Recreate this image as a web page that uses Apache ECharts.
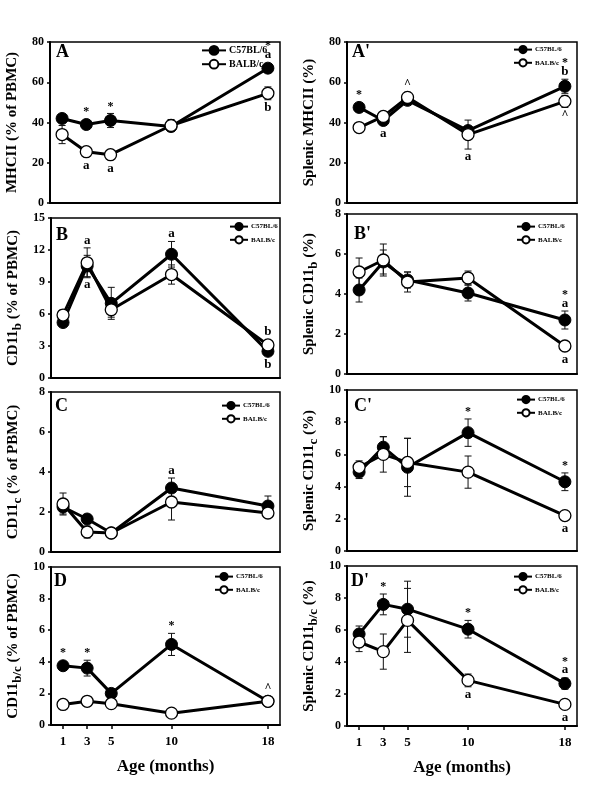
<!DOCTYPE html>
<html>
<head>
<meta charset="utf-8">
<script src="https://cdn.jsdelivr.net/npm/echarts@6/dist/echarts.min.js"></script>
<style>
html,body{margin:0;padding:0;background:#fff;}
#chart{width:600px;height:797px;}
</style>
</head>
<body>
<div id="chart"></div>
<script>
// ---------- DATA ----------
const ages = [1, 3, 5, 10, 18];
const seriesNames = ['C57BL/6', 'BALB/c'];
const xAxisTitle = 'Age (months)';

// A : MHCII (% of PBMC)
const mhcPbmcC57 = [42, 39, 41, 38, 67];
const mhcPbmcC57Err = [2, 2, 3.5, 2, 1.5];
const mhcPbmcBalb = [34, 25.5, 24, 38.5, 54.5];
const mhcPbmcBalbErr = [4.5, 2, 2, 3, 3.2];
const annA = [[3,'c','*','up'],[5,'c','*','up'],[3,'b','a','down'],[5,'b','a','down'],[18,'c','a*','up'],[18,'b','b','down']];

// A' : Splenic MHCII (%)
const splMhcC57 = [47.5, 41, 51, 36, 58];
const splMhcC57Err = [1.5, 1.5, 1.5, 2, 3.5];
const splMhcBalb = [37.5, 43, 52.5, 34, 50.5];
const splMhcBalbErr = [1, 2, 2.5, 7.2, 3];
const annA2 = [[1,'c','*','up'],[3,'c','a','down'],[5,'b','^','up'],[10,'b','a','down'],[18,'c','b*','up'],[18,'b','^','down']];

// B : CD11b (% of PBMC)
const cd11bPbmcC57 = [5.2, 10.5, 7.0, 11.6, 2.5];
const cd11bPbmcC57Err = [0.3, 1.0, 1.5, 1.2, 0.3];
const cd11bPbmcBalb = [5.9, 10.8, 6.4, 9.7, 3.1];
const cd11bPbmcBalbErr = [0.5, 1.4, 0.7, 0.9, 0.3];
const annB = [[3,'b','a','up'],[3,'c','a','down'],[10,'c','a','up'],[18,'b','b','up'],[18,'c','b','down']];

// B' : Splenic CD11b (%)
const splCd11bC57 = [4.2, 5.6, 4.7, 4.05, 2.7];
const splCd11bC57Err = [0.6, 0.6, 0.4, 0.4, 0.45];
const splCd11bBalb = [5.1, 5.7, 4.6, 4.8, 1.4];
const splCd11bBalbErr = [0.7, 0.8, 0.5, 0.35, 0.1];
const annB2 = [[18,'c','a*','up'],[18,'b','a','down']];

// C : CD11c (% of PBMC)
const cd11cPbmcC57 = [2.25, 1.65, 0.95, 3.2, 2.3];
const cd11cPbmcC57Err = [0.35, 0.2, 0.1, 0.5, 0.5];
const cd11cPbmcBalb = [2.4, 1.0, 0.95, 2.5, 1.95];
const cd11cPbmcBalbErr = [0.55, 0.3, 0.1, 0.9, 0.1];
const annC = [[10,'c','a','up']];

// C' : Splenic CD11c (%)
const splCd11cC57 = [4.9, 6.45, 5.2, 7.35, 4.3];
const splCd11cC57Err = [0.4, 0.65, 1.8, 0.85, 0.55];
const splCd11cBalb = [5.2, 6.0, 5.5, 4.9, 2.2];
const splCd11cBalbErr = [0.4, 1.1, 1.5, 1.0, 0.1];
const annC2 = [[10,'c','*','up'],[18,'c','*','up'],[18,'b','a','down']];

// D : CD11b/c (% of PBMC)
const cd11bcPbmcC57 = [3.75, 3.6, 2.0, 5.1, 1.5];
const cd11bcPbmcC57Err = [0.2, 0.5, 0.3, 0.7, 0.1];
const cd11bcPbmcBalb = [1.3, 1.5, 1.35, 0.75, 1.5];
const cd11bcPbmcBalbErr = [0.1, 0.3, 0.1, 0.1, 0.1];
const annD = [[1,'c','*','up'],[3,'c','*','up'],[10,'c','*','up'],[18,'b','^','up']];

// D' : Splenic CD11b/c (%)
const splCd11bcC57 = [5.75, 7.6, 7.3, 6.05, 2.65];
const splCd11bcC57Err = [0.5, 0.65, 1.75, 0.55, 0.35];
const splCd11bcBalb = [5.25, 4.65, 6.6, 2.85, 1.35];
const splCd11bcBalbErr = [0.6, 1.1, 2.0, 0.4, 0.1];
const annD2 = [[3,'c','*','up'],[10,'c','*','up'],[18,'c','a*','up'],[10,'b','a','down'],[18,'b','a','down']];

// ---------- LAYOUT ----------
const FONT = '"Liberation Serif", "Times New Roman", serif';
const panels = [
  {label:'A',  name:'{n|MHCII (% of PBMC)}', c:mhcPbmcC57, cE:mhcPbmcC57Err, b:mhcPbmcBalb, bE:mhcPbmcBalbErr, ann:annA,
   grid:{left:50, top:42, width:230, height:161}, yMax:80, yInt:20, bottom:false, lab:[56,43], leg:{left:201, top:45, big:true}},
  {label:"A'", name:'{n|Splenic MHCII (%)}', c:splMhcC57, cE:splMhcC57Err, b:splMhcBalb, bE:splMhcBalbErr, ann:annA2,
   grid:{left:347, top:42, width:230, height:161}, yMax:80, yInt:20, bottom:false, lab:[352,43], leg:{left:513, top:45}},
  {label:'B',  name:'{n|CD11}{s|b}{n| (% of PBMC)}', c:cd11bPbmcC57, cE:cd11bPbmcC57Err, b:cd11bPbmcBalb, bE:cd11bPbmcBalbErr, ann:annB,
   grid:{left:50, top:218, width:230, height:160}, yMax:15, yInt:3, bottom:false, lab:[56,226], leg:{left:229, top:222}},
  {label:"B'", name:'{n|Splenic CD11}{s|b}{n| (%)}', c:splCd11bC57, cE:splCd11bC57Err, b:splCd11bBalb, bE:splCd11bBalbErr, ann:annB2,
   grid:{left:347, top:214, width:230, height:160}, yMax:8, yInt:2, bottom:false, lab:[354,225], leg:{left:516, top:222}},
  {label:'C',  name:'{n|CD11}{s|c}{n| (% of PBMC)}', c:cd11cPbmcC57, cE:cd11cPbmcC57Err, b:cd11cPbmcBalb, bE:cd11cPbmcBalbErr, ann:annC,
   grid:{left:50, top:392, width:230, height:160}, yMax:8, yInt:2, bottom:false, lab:[55,397], leg:{left:221, top:401}},
  {label:"C'", name:'{n|Splenic CD11}{s|c}{n| (%)}', c:splCd11cC57, cE:splCd11cC57Err, b:splCd11cBalb, bE:splCd11cBalbErr, ann:annC2,
   grid:{left:347, top:390, width:230, height:161}, yMax:10, yInt:2, bottom:false, lab:[354,397], leg:{left:516, top:395}},
  {label:'D',  name:'{n|CD11}{s|b/c}{n| (% of PBMC)}', c:cd11bcPbmcC57, cE:cd11bcPbmcC57Err, b:cd11bcPbmcBalb, bE:cd11bcPbmcBalbErr, ann:annD,
   grid:{left:50, top:567, width:230, height:158}, yMax:10, yInt:2, bottom:true, lab:[54,572], leg:{left:214, top:572}},
  {label:"D'", name:'{n|Splenic CD11}{s|b/c}{n| (%)}', c:splCd11bcC57, cE:splCd11bcC57Err, b:splCd11bcBalb, bE:splCd11bcBalbErr, ann:annD2,
   grid:{left:347, top:566, width:230, height:160}, yMax:10, yInt:2, bottom:true, lab:[351,572], leg:{left:513, top:572}}
];

const option = {
  animation: false,
  backgroundColor: '#fff',
  grid: [], xAxis: [], yAxis: [], series: [], legend: [], graphic: []
};

const nameRich = {
  n: {fontSize: 15, fontWeight: 'bold', fontFamily: FONT, color: '#000', lineHeight: 22},
  s: {fontSize: 13, fontWeight: 'bold', fontFamily: FONT, color: '#000', verticalAlign: 'bottom', lineHeight: 22, padding: [10, 0, 0, 0]}
};

panels.forEach((p, i) => {
  option.grid.push(Object.assign({show: true, borderColor: '#000', borderWidth: 1.5, backgroundColor: 'transparent'}, p.grid));
  option.xAxis.push({
    type: 'value', gridIndex: i, min: 0, max: 19,
    splitLine: {show: false},
    axisLine: {show: true, onZero: false, lineStyle: {color: '#000', width: 2}},
    axisTick: {show: p.bottom, customValues: ages, length: 4, lineStyle: {color: '#000', width: 1.5}},
    axisLabel: {show: p.bottom, customValues: ages, margin: 10, fontSize: 13, fontWeight: 'bold', fontFamily: FONT, color: '#000'},
    name: p.bottom ? xAxisTitle : '', nameLocation: 'middle', nameGap: 33,
    nameTextStyle: {fontSize: 17, fontWeight: 'bold', fontFamily: FONT, color: '#000'}
  });
  option.yAxis.push({
    type: 'value', gridIndex: i, min: 0, max: p.yMax, interval: p.yInt,
    splitLine: {show: false},
    axisLine: {show: true, onZero: false, lineStyle: {color: '#000', width: 2}},
    axisTick: {show: true, length: 3, lineStyle: {color: '#000', width: 1.5}},
    axisLabel: {margin: 6, fontSize: 12, fontWeight: 'bold', fontFamily: FONT, color: '#000'},
    name: p.name, nameLocation: 'middle', nameRotate: 90, nameGap: 27,
    nameTextStyle: {rich: nameRich}
  });

  const groups = {c: {v: p.c, e: p.cE}, b: {v: p.b, e: p.bE}};

  // error bars (behind markers)
  ['c', 'b'].forEach(k => {
    const g = groups[k];
    option.series.push({
      type: 'custom', name: 'err-' + k, xAxisIndex: i, yAxisIndex: i, z: 1, silent: true,
      data: ages.map((a, j) => [a, g.v[j], g.e[j]]),
      renderItem: function (params, api) {
        const x = api.value(0), v = api.value(1), e = api.value(2);
        const top = api.coord([x, v + e]);
        const bot = api.coord([x, v - e]);
        const hw = 3.5;
        const st = {stroke: '#111', lineWidth: 1};
        return {type: 'group', children: [
          {type: 'line', shape: {x1: top[0], y1: top[1], x2: bot[0], y2: bot[1]}, style: st},
          {type: 'line', shape: {x1: top[0] - hw, y1: top[1], x2: top[0] + hw, y2: top[1]}, style: st},
          {type: 'line', shape: {x1: bot[0] - hw, y1: bot[1], x2: bot[0] + hw, y2: bot[1]}, style: st}
        ]};
      }
    });
  });

  // lines
  option.series.push({
    type: 'line', name: seriesNames[0], xAxisIndex: i, yAxisIndex: i, z: 3,
    data: ages.map((a, j) => [a, p.c[j]]),
    symbol: 'circle', symbolSize: 12, showSymbol: true,
    lineStyle: {color: '#000', width: 3},
    itemStyle: {color: '#000', borderColor: '#000', borderWidth: 1}
  });
  option.series.push({
    type: 'line', name: seriesNames[1], xAxisIndex: i, yAxisIndex: i, z: 4,
    data: ages.map((a, j) => [a, p.b[j]]),
    symbol: 'circle', symbolSize: 12, showSymbol: true,
    lineStyle: {color: '#000', width: 3},
    itemStyle: {color: '#fff', borderColor: '#000', borderWidth: 1.3}
  });

  // annotations
  const ann = p.ann;
  option.series.push({
    type: 'custom', name: 'ann', xAxisIndex: i, yAxisIndex: i, z: 5, silent: true,
    data: ann.map(a => {
      const g = groups[a[1]];
      const j = ages.indexOf(a[0]);
      return [a[0], g.v[j], g.e[j]];
    }),
    renderItem: function (params, api) {
      const a = ann[params.dataIndex];
      const x = api.value(0), v = api.value(1), e = api.value(2);
      const center = api.coord([x, v]);
      const children = [];
      const chars = a[2].split('');
      if (a[3] === 'up') {
        let y = Math.min(api.coord([x, v + e])[1], center[1] - 6) - 1;
        chars.forEach((ch, k) => {
          children.push({type: 'text', style: {text: ch, x: center[0], y: y - k * 9, align: 'center', verticalAlign: 'bottom',
            fontSize: ch === 'a' || ch === 'b' ? 13 : 12, fontWeight: 'bold', fontFamily: FONT, fill: '#000'}});
        });
      } else {
        let y = Math.max(api.coord([x, v - e])[1], center[1] + 6) + 1;
        chars.forEach((ch, k) => {
          children.push({type: 'text', style: {text: ch, x: center[0], y: y + k * 9, align: 'center', verticalAlign: 'top',
            fontSize: ch === 'a' || ch === 'b' ? 13 : 12, fontWeight: 'bold', fontFamily: FONT, fill: '#000'}});
        });
      }
      return {type: 'group', children: children};
    }
  });

  // legend
  const big = !!p.leg.big;
  option.legend.push({
    data: seriesNames, orient: 'vertical', left: p.leg.left, top: p.leg.top,
    itemWidth: big ? 24 : 18, itemHeight: big ? 11 : 9, itemGap: big ? 3 : 4, padding: 0,
    textStyle: {fontSize: big ? 10 : 7, fontWeight: 'bold', fontFamily: FONT, color: '#000', padding: [0, 0, 0, -2]},
    selectedMode: false
  });

  // panel label
  option.graphic.push({type: 'text', left: p.lab[0], top: p.lab[1],
    style: {text: p.label, fontSize: 18, fontWeight: 'bold', fontFamily: FONT, fill: '#000'}});
});

const chart = echarts.init(document.getElementById('chart'), null, {renderer: 'canvas'});
chart.setOption(option);
</script>
</body>
</html>
